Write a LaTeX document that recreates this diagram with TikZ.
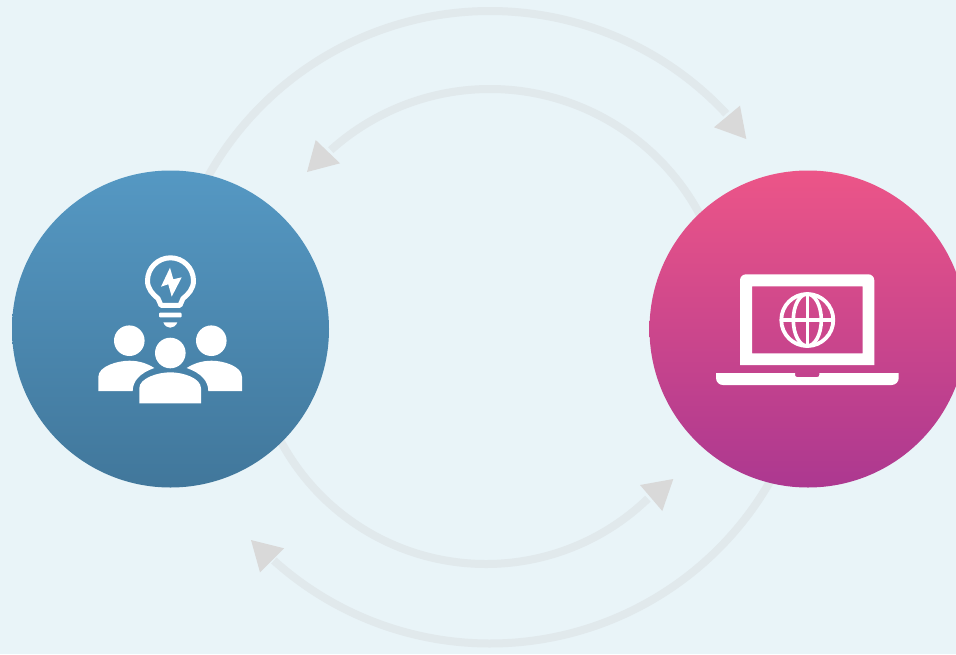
\documentclass[tikz,border=0pt]{standalone}
\definecolor{bgc}{HTML}{E9F4F8}
\definecolor{flowc}{HTML}{E1E9EC}
\definecolor{tipc}{HTML}{D9D9D9}
\definecolor{blueT}{HTML}{5598C3}
\definecolor{blueB}{HTML}{41779B}
\definecolor{pinkT}{HTML}{EC5588}
\definecolor{pinkB}{HTML}{AC3890}
\tikzset{
  flow/.style={draw=flowc,line width=8pt},
  tip/.style={fill=tipc},
  hub/.style={circle,minimum size=317pt,inner sep=0pt,outer sep=0pt,shading=axis},
  icon/.style={fill=white},
  iconline/.style={draw=white,line width=5pt},
}
\begin{document}
\begin{tikzpicture}[x=1pt,y=-1pt]
\useasboundingbox (0,0) rectangle (956,654);
\clip (0,0) rectangle (956,654);
\fill[bgc] (0,0) rectangle (956,654);
% ring centres
\coordinate (ot) at (490,334);
\coordinate (it) at (490,327);
\coordinate (ob) at (490,320.5);
\coordinate (ib) at (486,331);
% connectors
\draw[flow] (ot) ++(-155:323) arc[start angle=-155,end angle=-43,radius=323];
\draw[flow] (it) ++(-20:238) arc[start angle=-20,end angle=-132,radius=238];
\draw[flow] (ob) ++(25:323) arc[start angle=25,end angle=132,radius=323];
\draw[flow] (ib) ++(155:233) arc[start angle=155,end angle=46,radius=233];
% arrow heads
\fill[tip] (740,105.7) -- (714,127.3) -- (746.3,139) -- cycle;
\fill[tip] (315.7,140) -- (340,163.3) -- (307,172) -- cycle;
\fill[tip] (673.3,479) -- (640,485) -- (662.3,511) -- cycle;
\fill[tip] (251,540) -- (284,548.3) -- (260,572.3) -- cycle;
% hubs
\node[hub,top color=blueT,bottom color=blueB] (people) at (170.5,329) {};
\node[hub,top color=pinkT,bottom color=pinkB] (web) at (808,329) {};
% bulb
\draw[iconline,line join=round]
  (161,305.3) -- (158,298.5) .. controls (153,294.5) and (147.5,289) .. (147.5,280.8)
  arc[start angle=180,end angle=360,radius=23]
  .. controls (193.5,289) and (188,294.5) .. (183,298.5) -- (180,305.3) -- cycle;
\fill[icon] (170,267.7) -- (161,286.7) -- (168.3,284.3) -- (171.7,296.7) -- (181.7,277.3) -- (173.3,279.3) -- cycle;
\fill[icon,rounded corners=1pt] (159,312.7) rectangle (181.7,317.3);
\fill[icon] (163.3,322.3) -- (177.3,322.3) .. controls (176,326) and (173,327.7) .. (170.3,327.7) .. controls (167.6,327.7) and (164.6,326) .. (163.3,322.3) -- cycle;
% people
\fill[icon] (129.3,340.7) circle[radius=15.3];
\fill[icon] (211.3,340.7) circle[radius=15.3];
\fill[icon] (170.3,353) circle[radius=15.3];
\fill[icon] (98.3,391) -- (98.3,377) .. controls (98.3,366) and (118,360.7) .. (129.3,360.7)
  .. controls (140,360.7) and (148,364) .. (154.3,368) .. controls (140,373) and (132.7,381) .. (132.7,391) -- cycle;
\fill[icon] (242,391) -- (242,377) .. controls (242,366) and (223,360.7) .. (211.7,360.7)
  .. controls (201,360.7) and (193,364) .. (186.7,368) .. controls (201,373) and (208.3,381) .. (208.3,391) -- cycle;
\fill[icon] (139.3,403.3) -- (139.3,388.3) .. controls (139.3,378) and (158,372.3) .. (170.3,372.3)
  .. controls (183,372.3) and (201,378) .. (201,388.3) -- (201,403.3) -- cycle;
% laptop
\fill[icon,even odd rule] (740,365) -- (740,280.3) arc[start angle=180,end angle=270,radius=6] -- (868.3,274.3) arc[start angle=270,end angle=360,radius=6] -- (874.3,365) -- cycle
  (752,286.3) rectangle (862.7,353.3);
\fill[icon] (716,373) -- (795,373) -- (795,375) arc[start angle=180,end angle=90,radius=2] -- (817.3,377) arc[start angle=90,end angle=0,radius=2] -- (819.3,373) -- (898.7,373) -- (898.7,378) arc[start angle=0,end angle=90,radius=7] -- (723,385) arc[start angle=90,end angle=180,radius=7] -- cycle;
% globe
\draw[white,line width=3.8pt] (807.3,320) circle[radius=26];
\draw[white,line width=3.6pt] (807.3,320) ellipse[x radius=14,y radius=26];
\draw[white,line width=3.6pt] (807.3,294) -- (807.3,346);
\draw[white,line width=3.6pt] (781.3,320) -- (833.3,320);
\end{tikzpicture}
\end{document}
